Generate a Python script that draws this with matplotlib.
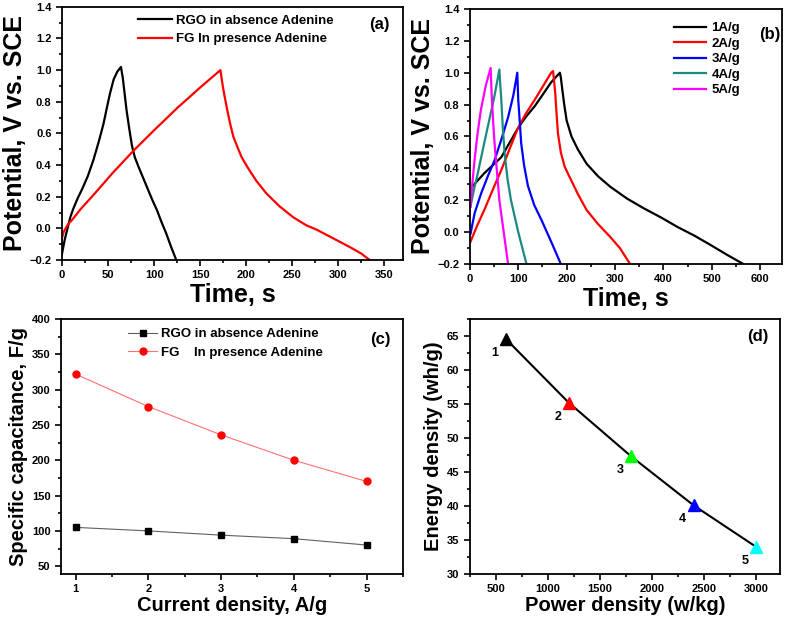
import numpy as np
import matplotlib.pyplot as plt
from matplotlib.ticker import MultipleLocator

plt.rcParams['font.family'] = ['Liberation Sans', 'DejaVu Sans']
plt.rcParams['font.weight'] = 'bold'
plt.rcParams['axes.labelweight'] = 'bold'

# (a) charge/discharge, RGO vs FG
rgo_t = [0, 3, 6, 9, 12, 17, 22, 28, 34, 40, 45, 49, 52, 56, 60, 64,
         66, 68, 70, 73, 76, 79, 83, 88, 93, 98, 103, 108, 113, 118, 124]
rgo_v = [-0.16, -0.07, 0.0, 0.07, 0.12, 0.19, 0.25, 0.33, 0.43, 0.55, 0.66, 0.77, 0.85, 0.94, 0.99, 1.02,
         0.95, 0.85, 0.75, 0.63, 0.52, 0.45, 0.39, 0.32, 0.25, 0.18, 0.116, 0.04, -0.03, -0.11, -0.2]
fg_t = [0, 2, 4, 7, 10.5, 20, 34, 55, 77.5, 100, 125, 150, 164, 172,
        173, 174.5, 177, 180, 183, 186, 190, 195, 201, 211, 222, 236, 251, 265, 277, 295, 313, 325, 334]
fg_v = [-0.06, -0.02, 0.0, 0.03, 0.05, 0.12, 0.21, 0.35, 0.49, 0.62, 0.76, 0.89, 0.96, 1.0,
        0.96, 0.9, 0.82, 0.73, 0.65, 0.58, 0.52, 0.45, 0.39, 0.3, 0.22, 0.14, 0.07, 0.02, -0.01, -0.065, -0.12, -0.16, -0.2]

# (b) FG at different current densities
b1_t = [6, 30, 65, 80, 99, 115, 134, 150, 168, 186, 188, 190, 195, 200, 210, 223, 241, 265, 290, 325,
        359, 395, 428, 465, 497, 530, 565]
b1_v = [0.29, 0.37, 0.47, 0.55, 0.65, 0.72, 0.79, 0.86, 0.94, 1.0, 0.97, 0.92, 0.8, 0.7, 0.6, 0.52, 0.43,
        0.35, 0.285, 0.21, 0.15, 0.092, 0.034, -0.024, -0.08, -0.14, -0.2]
b2_t = [1.4, 15, 30, 48, 65, 82, 99, 115, 134, 150, 168, 172, 174, 176.5, 179, 182, 188, 196, 207,
        223, 241, 265, 290, 310, 331]
b2_v = [-0.06, 0.04, 0.14, 0.27, 0.39, 0.52, 0.65, 0.74, 0.83, 0.91, 1.0, 1.01, 0.95, 0.87, 0.75, 0.62,
        0.5, 0.41, 0.34, 0.24, 0.14, 0.05, -0.03, -0.1, -0.2]
b3_t = [1.4, 10, 23, 37, 51, 65, 79, 90, 98, 100, 103, 106, 112, 120, 133, 148, 168, 188]
b3_v = [-0.01, 0.12, 0.24, 0.35, 0.45, 0.58, 0.72, 0.86, 1.0, 0.83, 0.7, 0.56, 0.42, 0.29, 0.17, 0.076, -0.06, -0.2]
b4_t = [1.4, 8, 16.5, 27, 37, 50, 61, 63, 65, 68, 72, 78, 85, 100, 117]
b4_v = [0.16, 0.26, 0.37, 0.52, 0.66, 0.84, 1.02, 0.92, 0.83, 0.66, 0.49, 0.33, 0.2, 0.0, -0.2]
b5_t = [1.4, 5, 9.7, 16, 23, 33, 43, 45, 48, 51, 56, 61, 70, 79]
b5_v = [0.16, 0.3, 0.45, 0.62, 0.77, 0.92, 1.03, 0.87, 0.7, 0.56, 0.38, 0.2, 0.0, -0.2]
b_labels = ['1A/g', '2A/g', '3A/g', '4A/g', '5A/g']
b_colors = ['black', 'red', 'blue', '#1a8a80', 'magenta']

# (c) specific capacitance
current = [1, 2, 3, 4, 5]
cap_rgo = [105, 100, 94, 89, 80]
cap_fg = [322, 276, 236, 200, 170]

# (d) Ragone
power = [600, 1200, 1800, 2400, 3000]
energy = [64.5, 55.2, 47.3, 40.1, 34.0]
pt_labels = ['1', '2', '3', '4', '5']
pt_colors = ['black', 'red', '#00ff00', 'blue', 'cyan']

fig = plt.figure(figsize=(7.87, 6.19), dpi=100)
axa = fig.add_axes([0.0788, 0.58, 0.433, 0.409])
axb = fig.add_axes([0.597, 0.5735, 0.3967, 0.412])
axc = fig.add_axes([0.0775, 0.0727, 0.4345, 0.412])
axd = fig.add_axes([0.597, 0.0727, 0.394, 0.412])

for ax in (axa, axb, axc, axd):
    ax.tick_params(which='both', direction='out', labelsize=8, width=1.2)
    ax.tick_params(which='major', length=4)
    ax.tick_params(which='minor', length=2.5)
    for s in ax.spines.values():
        s.set_linewidth(1.3)

# (a)
axa.plot(rgo_t, rgo_v, color='black', lw=1.6, label='RGO in absence Adenine')
axa.plot(fg_t, fg_v, color='red', lw=1.6, label='FG In presence Adenine')
axa.set_xlim(0, 370)
axa.set_ylim(-0.2, 1.4)
axa.xaxis.set_major_locator(MultipleLocator(50))
axa.xaxis.set_minor_locator(MultipleLocator(25))
axa.yaxis.set_major_locator(MultipleLocator(0.2))
axa.yaxis.set_minor_locator(MultipleLocator(0.1))
axa.set_xlabel('Time, s', fontsize=18, labelpad=2)
axa.set_ylabel('Potential, V vs. SCE', fontsize=18, labelpad=2)
axa.legend(loc='upper left', bbox_to_anchor=(0.2, 1.0), frameon=False, fontsize=9.5,
           handlelength=2.6, handletextpad=0.3, labelspacing=0.45, borderaxespad=0.2)
axa.text(0.93, 0.93, '(a)', transform=axa.transAxes, fontsize=12, ha='center', va='center')

# (b)
for t, v, lab, c in zip([b1_t, b2_t, b3_t, b4_t, b5_t], [b1_v, b2_v, b3_v, b4_v, b5_v], b_labels, b_colors):
    axb.plot(t, v, color=c, lw=1.6, label=lab)
axb.set_xlim(0, 645)
axb.set_ylim(-0.2, 1.4)
axb.xaxis.set_major_locator(MultipleLocator(100))
axb.xaxis.set_minor_locator(MultipleLocator(50))
axb.yaxis.set_major_locator(MultipleLocator(0.2))
axb.yaxis.set_minor_locator(MultipleLocator(0.1))
axb.set_xlabel('Time, s', fontsize=18, labelpad=2)
axb.set_ylabel('Potential, V vs. SCE', fontsize=18, labelpad=2)
axb.legend(loc='upper left', bbox_to_anchor=(0.63, 0.98), frameon=False, fontsize=9.5,
           handlelength=2.4, handletextpad=0.4, labelspacing=0.25, borderaxespad=0.2)
axb.text(0.96, 0.9, '(b)', transform=axb.transAxes, fontsize=12, ha='center', va='center')

# (c)
axc.plot(current, cap_rgo, color='#606060', lw=0.8, marker='s', ms=4.5, mfc='black', mec='black',
         label='RGO in absence Adenine')
axc.plot(current, cap_fg, color='#ff7070', lw=0.8, marker='o', ms=5, mfc='red', mec='red',
         label='FG    In presence Adenine')
axc.set_xlim(0.8, 5.5)
axc.set_ylim(39, 400)
axc.xaxis.set_major_locator(MultipleLocator(1))
axc.xaxis.set_minor_locator(MultipleLocator(0.5))
axc.yaxis.set_major_locator(MultipleLocator(50))
axc.yaxis.set_minor_locator(MultipleLocator(25))
axc.set_xlabel('Current density, A/g', fontsize=14.5, labelpad=1)
axc.set_ylabel('Specific capacitance, F/g', fontsize=14.5, labelpad=3)
axc.legend(loc='upper left', bbox_to_anchor=(0.17, 1.0), frameon=False, fontsize=9.5,
           handlelength=2.2, handletextpad=0.3, labelspacing=0.45, borderaxespad=0.3)
axc.text(0.935, 0.92, '(c)', transform=axc.transAxes, fontsize=12, ha='center', va='center')

# (d)
axd.plot(power, energy, color='black', lw=1.5, zorder=1)
for p, e, lab, c in zip(power, energy, pt_labels, pt_colors):
    axd.plot(p, e, marker='^', ms=9, color=c, ls='none', zorder=2)
    axd.annotate(lab, (p, e), xytext=(-8, -10), textcoords='offset points',
                 fontsize=9, ha='center', va='center')
axd.set_xlim(250, 3230)
axd.set_ylim(30, 67.5)
axd.xaxis.set_major_locator(MultipleLocator(500))
axd.xaxis.set_minor_locator(MultipleLocator(250))
axd.yaxis.set_major_locator(MultipleLocator(5))
axd.yaxis.set_minor_locator(MultipleLocator(2.5))
axd.set_xlabel('Power density (w/kg)', fontsize=14.5, labelpad=1)
axd.set_ylabel('Energy density (wh/g)', fontsize=14.5, labelpad=3)
axd.text(0.93, 0.93, '(d)', transform=axd.transAxes, fontsize=12, ha='center', va='center')

fig.savefig('out.png', dpi=100)
